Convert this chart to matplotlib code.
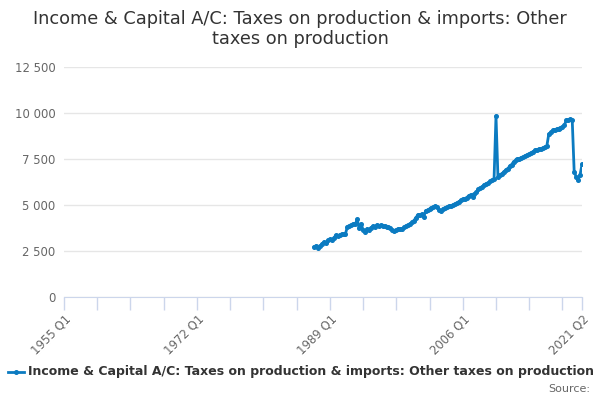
import numpy as np
import matplotlib.pyplot as plt

# quarterly series, 1987 Q1 .. 2021 Q2 (GBP million)
values = [
    2730, 2780, 2640, 2750,   # 1987
    2900, 2980, 2950, 3080,   # 1988
    3130, 3100, 3200, 3350,   # 1989
    3300, 3380, 3420, 3400,   # 1990
    3450, 3820, 3850, 3900,   # 1991
    3970, 3950, 4220, 3730,   # 1992
    3970, 3650, 3550, 3700,   # 1993
    3650, 3760, 3850, 3800,   # 1994
    3910, 3880, 3900, 3860,   # 1995
    3840, 3800, 3780, 3730,   # 1996
    3620, 3600, 3650, 3700,   # 1997
    3680, 3720, 3780, 3860,   # 1998
    3900, 3980, 4050, 4150,   # 1999
    4300, 4460, 4480, 4500,   # 2000
    4330, 4690, 4720, 4780,   # 2001
    4850, 4880, 4930, 4900,   # 2002
    4750, 4690, 4800, 4850,   # 2003
    4880, 4930, 4950, 5000,   # 2004
    5050, 5100, 5180, 5250,   # 2005
    5300, 5350, 5400, 5500,   # 2006
    5550, 5450, 5600, 5700,   # 2007
    5850, 5920, 6000, 6100,   # 2008
    6150, 6200, 6280, 6350,   # 2009
    6400, 9840, 6500, 6630,   # 2010
    6700, 6800, 6900, 6980,   # 2011
    7100, 7200, 7350, 7420,   # 2012
    7480, 7520, 7580, 7600,   # 2013
    7680, 7720, 7770, 7830,   # 2014
    7900, 7980, 8000, 8030,   # 2015
    8060, 8100, 8150, 8200,   # 2016
    8850, 8950, 9050, 9100,   # 2017
    9120, 9150, 9180, 9250,   # 2018
    9350, 9600, 9620, 9650,   # 2019
    9620, 6810, 6540, 6360,   # 2020
    6630, 7210,               # 2021
]
start_year, end_year, end_q = 1955, 2021, 2
first_year = 1987

tick_labels = ["1955 Q1", "1972 Q1", "1989 Q1", "2006 Q1", "2021 Q2"]
y_ticks = [0, 2500, 5000, 7500, 10000, 12500]

title = "Income & Capital A/C: Taxes on production & imports: Other\ntaxes on production"
series_name = "Income & Capital A/C: Taxes on production & imports: Other taxes on production"

# quarter index counted from 1955 Q1
n_total = (end_year - start_year) * 4 + end_q - 1
x = np.arange(len(values)) + (first_year - start_year) * 4

blue = "#0b7bc1"
grid = "#e6e6e6"
axis_col = "#ccd6eb"
text_col = "#666666"

fig = plt.figure(figsize=(6, 4), dpi=100)
ax = fig.add_axes([64 / 600, 103 / 400, 518 / 600, 230 / 400])

ax.plot(x, values, color=blue, lw=2, marker="o", ms=2.6, zorder=3)

ax.set_xlim(0, n_total)
ax.set_ylim(0, 12500)

ax.set_yticks(y_ticks)
ax.set_yticklabels([f"{v:,}".replace(",", " ") for v in y_ticks])
ax.yaxis.grid(True, color=grid, lw=1)
ax.set_axisbelow(True)
ax.tick_params(axis="y", length=0, pad=6, labelsize=8.4, labelcolor=text_col)

minor = list(range(0, n_total, 17)) + [n_total]
ax.set_xticks(minor, minor=True)
ax.set_xticks([0, 68, 136, 204, n_total])
ax.set_xticklabels(tick_labels, rotation=45, ha="right", rotation_mode="anchor")
ax.tick_params(axis="x", which="both", length=9, color=axis_col, width=1,
               labelsize=8.4, labelcolor=text_col, pad=2)

for s in ["top", "right", "left"]:
    ax.spines[s].set_visible(False)
ax.spines["bottom"].set_color(axis_col)

fig.text(0.5, 0.975, title, ha="center", va="top", fontsize=12.8,
         color="#333333", linespacing=1.15)

# legend row
fig.lines.append(plt.Line2D([8 / 600, 16 / 600, 24 / 600], [1 - 372 / 400] * 3,
                            transform=fig.transFigure, color=blue, lw=2,
                            marker="o", ms=2.6, markevery=[1]))
fig.text(28 / 600, 1 - 372 / 400, series_name, ha="left", va="center",
         fontsize=9, fontweight="bold", color="#333333")
fig.text(590 / 600, 1 - 389 / 400, "Source:", ha="right", va="center",
         fontsize=8, color=text_col)

fig.savefig("out.png", dpi=100)
